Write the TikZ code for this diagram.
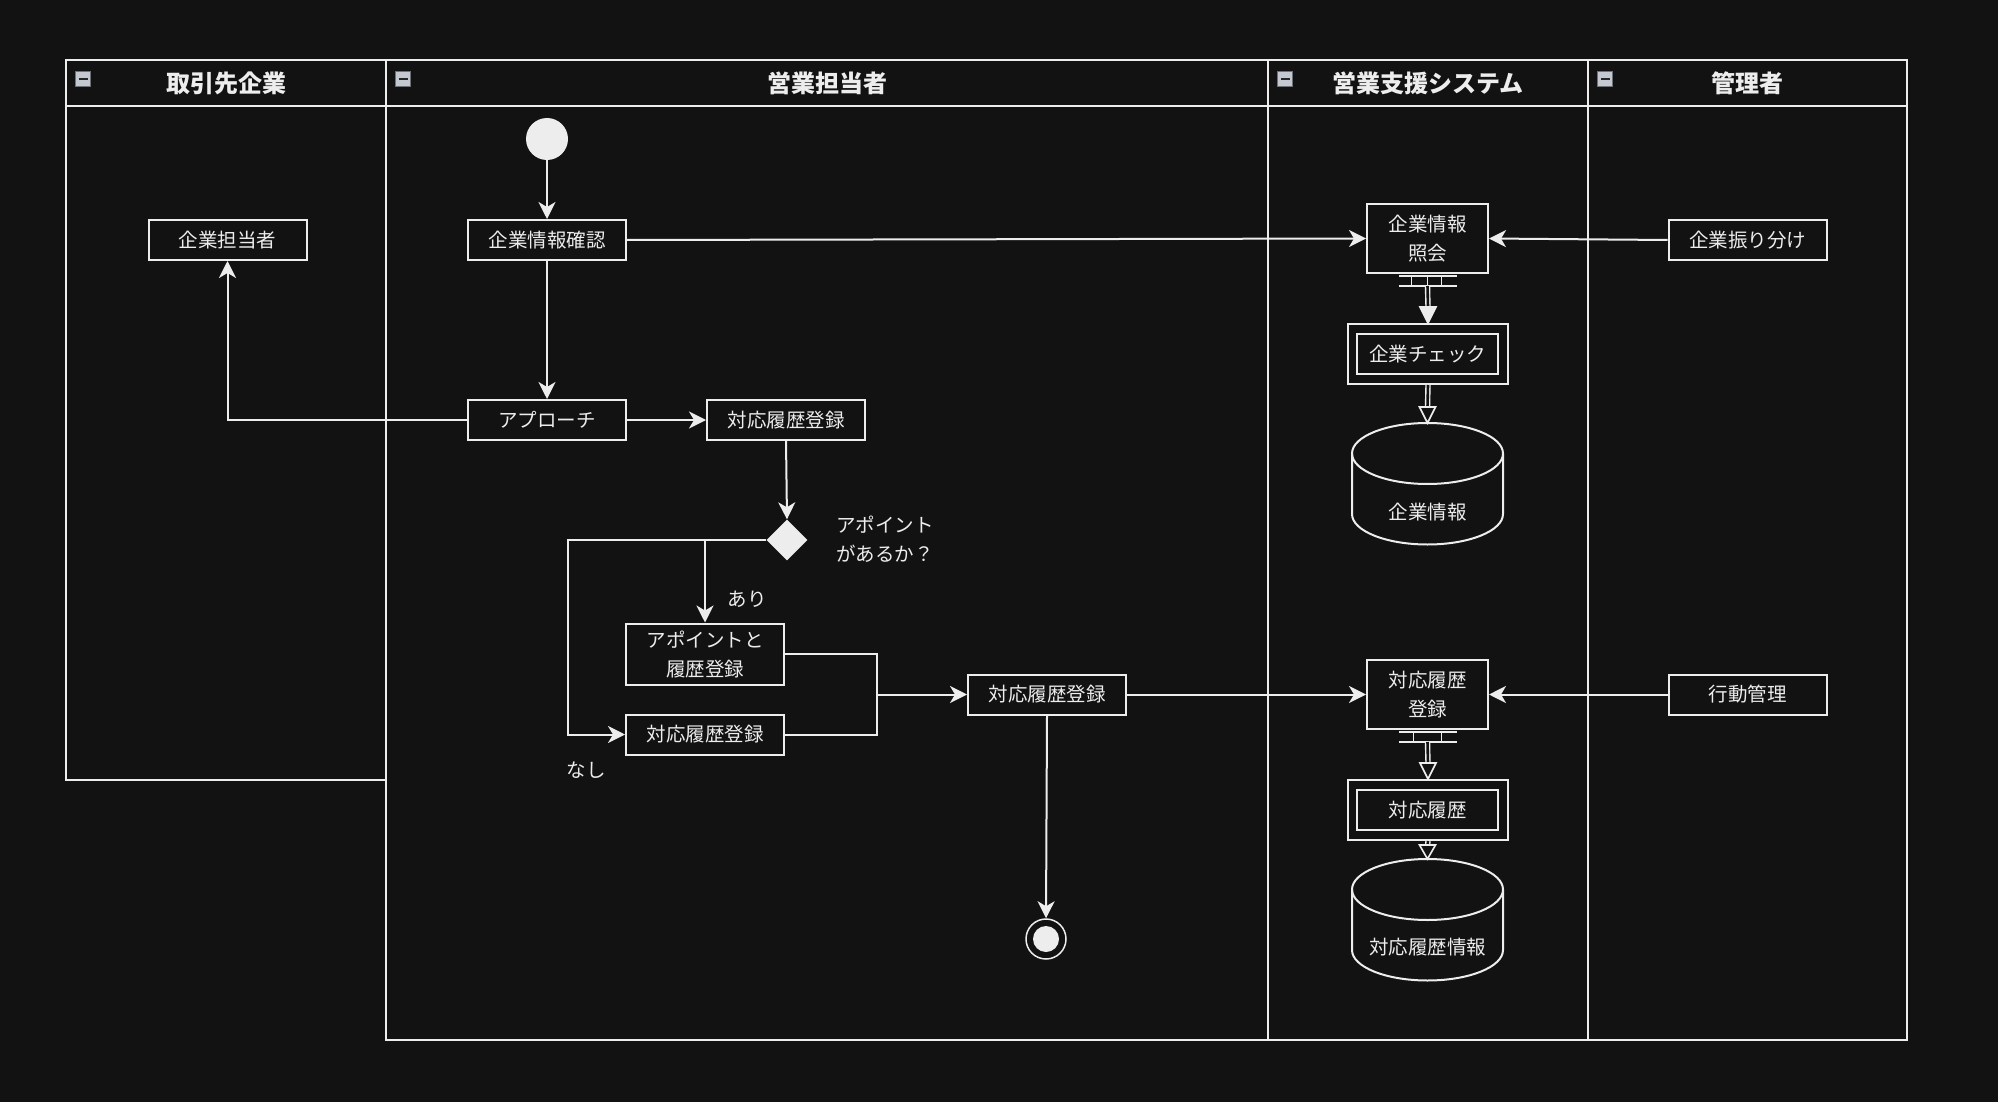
\documentclass[tikz,border=0pt]{standalone}
\usepackage{fontspec}
\setmainfont{Noto Sans CJK JP}
\usetikzlibrary{arrows.meta,calc,shapes.geometric}
\definecolor{bg}{HTML}{121212}
\definecolor{fg}{HTML}{EDEDED}
\definecolor{iconfill}{HTML}{C4C8D0}
\definecolor{iconedge}{HTML}{6E7078}

\begin{document}
\begin{tikzpicture}[x=1pt,y=-1pt,
  line/.style={draw=fg, line width=2pt},
  arr/.style={line, -{Stealth[length=17pt,width=17pt,inset=5pt]}},
  lane/.style={draw=fg, line width=2pt},
  lanetitle/.style={text=fg, font=\fontsize{24}{28}\selectfont\bfseries},
  act/.style={draw=fg, line width=2pt, fill=bg, text=fg, inner sep=0pt,
    minimum width=158pt, minimum height=40pt, align=center,
    font=\fontsize{19.5}{29}\selectfont},
  sysact/.style={act, minimum width=121pt, minimum height=69pt},
  storebox/.style={draw=fg, line width=2pt, fill=bg, inner sep=0pt,
    minimum width=160pt, minimum height=60pt},
  label/.style={text=fg, inner sep=0pt, align=left, font=\fontsize{19.5}{29}\selectfont},
  shaft/.style={draw=fg, line width=1.4pt, double=bg, double distance=2.6pt},
]
% background
\fill[bg] (0,0) rectangle (1998,1102);
\useasboundingbox (0,0) rectangle (1998,1102);

% swimlanes
\draw[lane] (66,60) rectangle (386,780);
\draw[lane] (386,60) rectangle (1268,1040);
\draw[lane] (1268,60) rectangle (1588,1040);
\draw[lane] (1588,60) rectangle (1907,1040);
\draw[lane] (66,106) -- (1907,106);

% collapse icons in the lane headers
\foreach \lx in {66,386,1268,1588}{
  \fill[iconfill] (\lx+9.5,71) rectangle (\lx+24.5,86);
  \draw[iconedge, line width=0.8pt] (\lx+9.5,71) rectangle (\lx+24.5,86);
  \fill[black!85] (\lx+12.5,77.6) rectangle (\lx+21.5,79.6);
}

% lane titles
\node[lanetitle] (t1) at (226,83) {取引先企業};
\node[lanetitle] (t2) at (827,83) {営業担当者};
\node[lanetitle] (t3) at (1428,83) {営業支援システム};
\node[lanetitle] (t4) at (1747.5,83) {管理者};

% activities
\node[circle, fill=fg, minimum size=42pt, inner sep=0pt] (start) at (547,139) {};
\node[act] (cust) at (227.5,240) {企業担当者};
\node[act] (chk1) at (547,240) {企業情報確認};
\node[act] (appr) at (547,420) {アプローチ};
\node[act] (reg1) at (786,420) {対応履歴登録};
\node[diamond, fill=fg, minimum width=41pt, minimum height=41pt, inner sep=0pt] (dec) at (787,540) {};
\node[label, anchor=west] (decq) at (836,539) {アポイント\\があるか？};
\node[act, minimum height=61pt] (apt) at (705,654) {アポイントと\\履歴登録};
\node[act] (reg2) at (705,734.5) {対応履歴登録};
\node[label] (yes) at (747,599) {あり};
\node[label] (no) at (586,770) {なし};
\node[act] (reg3) at (1047,694.5) {対応履歴登録};
\node[circle, draw=fg, line width=1.5pt, fill=bg, minimum size=40pt, inner sep=0pt] (fin) at (1046,939) {};
\fill[fg] (fin.center) circle[radius=13];

% system lane
\node[sysact] (q1) at (1427.5,238.5) {企業情報\\照会};
\node[act] (assign) at (1747.5,240) {企業振り分け};
\node[storebox] (chk2) at (1428,354) {};
\node[act, minimum width=141pt, minimum height=40pt] (chk2in) at (1427.5,354) {企業チェック};
\node[sysact] (q2) at (1427.5,694.5) {対応履歴\\登録};
\node[act] (mgmt) at (1747.5,694.5) {行動管理};
\node[storebox] (hist) at (1428,810) {};
\node[act, minimum width=141pt, minimum height=40pt] (histin) at (1427.5,810) {対応履歴};

% data stores (cylinders)
\foreach \cy/\nm in {423/db1, 859/db2}{
  \draw[line, fill=bg] (1352,\cy+30.5) -- (1352,\cy+91)
     arc[start angle=180, end angle=0, x radius=75.5, y radius=30.5]
     -- (1503,\cy+30.5);
  \draw[line] (1427.5,\cy+30.5) ellipse[x radius=75.5, y radius=30.5];
  \coordinate (\nm) at (1427.5,\cy);
}
\node[label] (db1txt) at (1427.5,512) {企業情報};
\node[label] (db2txt) at (1427.5,947) {対応履歴情報};

% control flow
\draw[arr] (start) -- (chk1);
\draw[arr] (chk1) -- (appr);
\draw[arr] (chk1.east) -- (q1.west);
\draw[arr] (assign.west) -- (q1.east);
\draw[arr] (appr.west) -| (cust.south);
\draw[arr] (appr) -- (reg1);
\draw[arr] (reg1.south) -- (dec.north);
\draw[arr] (dec.west) -| (apt.north);
\coordinate (nb) at (568,540);
\draw[arr] (dec.west) -- (nb) |- (reg2.west);
\coordinate (mg) at (877,694.5);
\draw[line] (apt.east) -| (mg);
\draw[line] (reg2.east) -| (mg);
\draw[arr] (mg) -- (reg3.west);
\draw[arr] (reg3.east) -- (q2.west);
\draw[arr] (mgmt.west) -- (q2.east);
\draw[arr] (reg3.south) -- (fin.north);

% object flows from the system activities
\foreach \src/\dst/\ticks/\hd in {q1/chk2/{-16,0,14}/fg, q2/hist/{-14,14}/bg}{
  \draw[line, line width=1.6pt] ($(\src.south)+(-29,2)$) -- ++(58,0);
  \draw[line, line width=1.6pt] ($(\src.south)+(-29,12)$) -- ++(58,0);
  \foreach \t in \ticks { \draw[line, line width=1.6pt] ($(\src.south)+(\t,2)$) -- ++(0,10); }
  \draw[shaft] ($(\src.south)+(0,12)$) -- ($(\dst.north)+(0,-16)$);
  \draw[draw=fg, line width=1.6pt, fill=\hd, line join=miter] (\dst.north) -- ++(-8,-16) -- ++(16,0) -- cycle;
}
\draw[shaft] (chk2.south) -- ($(db1)+(0,-16)$);
\draw[draw=fg, line width=1.6pt, fill=bg] (db1) -- ++(-8,-16) -- ++(16,0) -- cycle;
\draw[shaft] (hist.south) -- ($(db2)+(0,-13)$);
\draw[draw=fg, line width=1.6pt, fill=bg] (db2) -- ++(-8,-14) -- ++(16,0) -- cycle;
\end{tikzpicture}
\end{document}
